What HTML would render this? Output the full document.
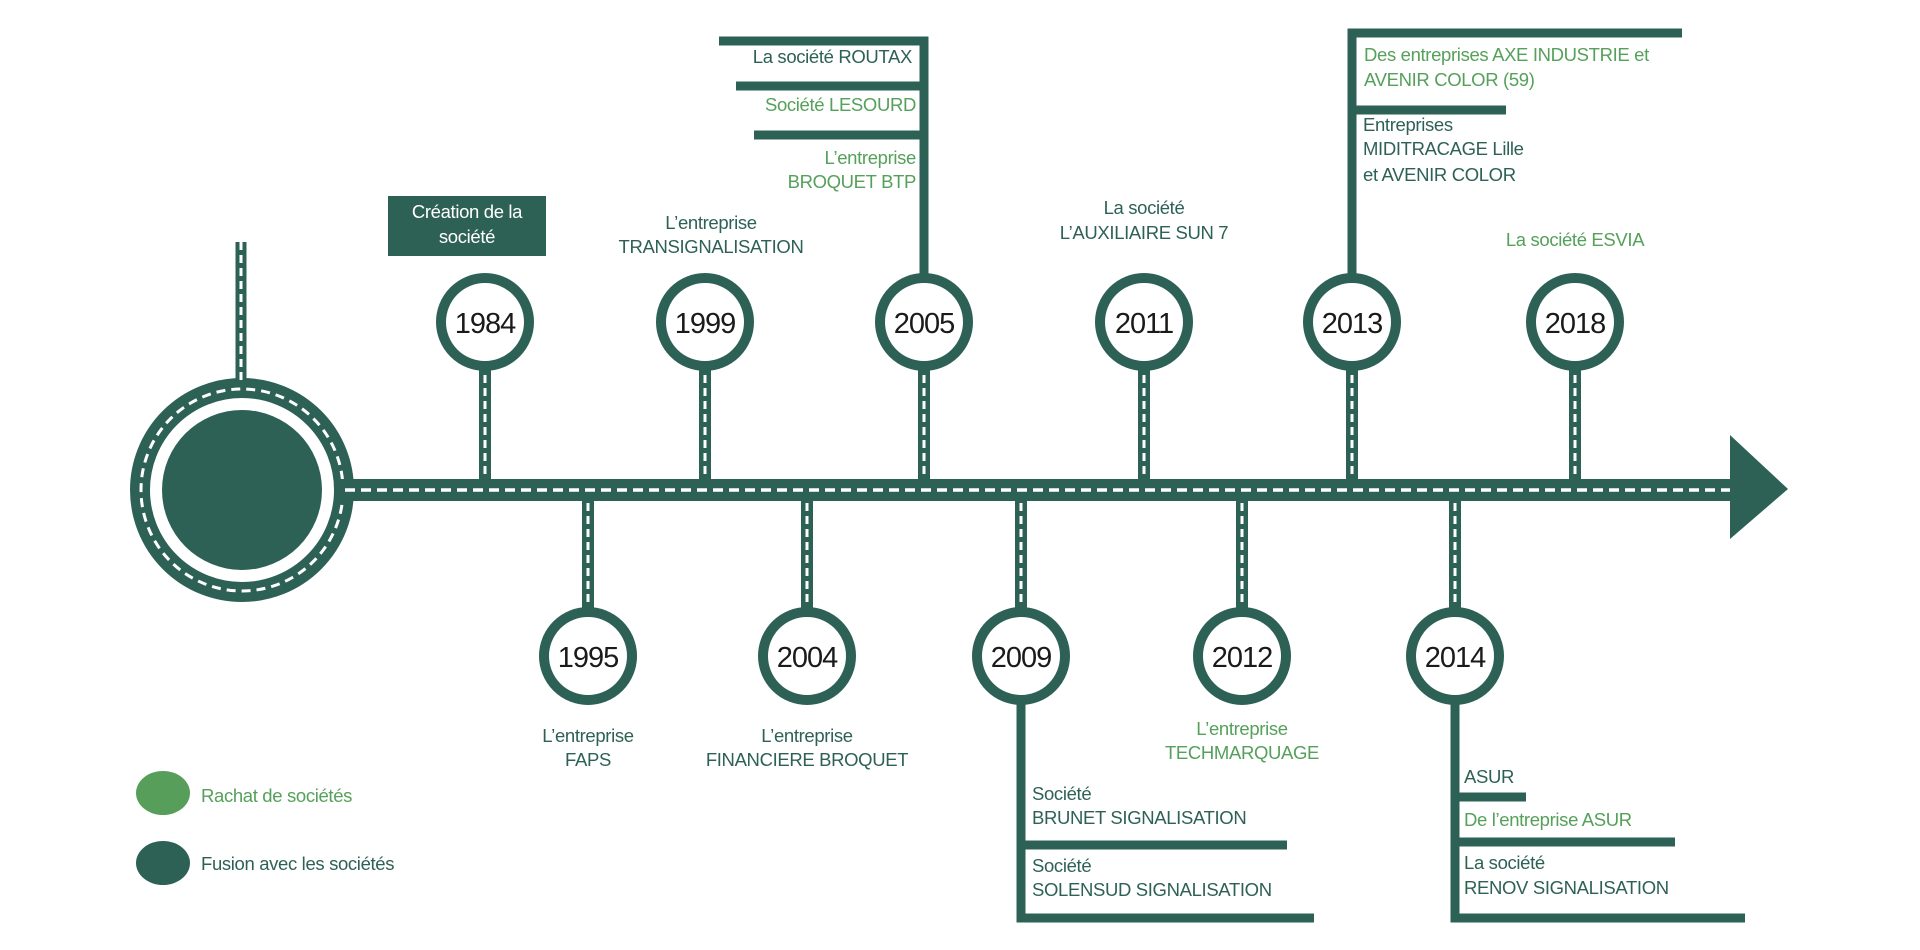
<!DOCTYPE html>
<html><head><meta charset="utf-8"><style>
html,body{margin:0;padding:0;background:#fff;}
svg{display:block;}
text{font-family:"Liberation Sans",Arial,sans-serif;font-size:18.5px;letter-spacing:-0.35px;}
.d{fill:#2e6156}.g{fill:#55a05a}.y{font-size:29px;fill:#1a1a1a;letter-spacing:-1px}
</style></head><body>
<svg width="1920" height="950" viewBox="0 0 1920 950" xmlns="http://www.w3.org/2000/svg">
<!-- big circle -->
<circle cx="242" cy="490" r="102" fill="none" stroke="#2e6156" stroke-width="20"/>
<circle cx="242" cy="490" r="101" fill="none" stroke="#fff" stroke-width="3" stroke-dasharray="9 6"/>
<circle cx="242" cy="490" r="80" fill="#2e6156"/>
<line x1="241" y1="242" x2="241" y2="382" stroke="#2e6156" stroke-width="11"/>
<line x1="241" y1="242" x2="241" y2="382" stroke="#fff" stroke-width="3" stroke-dasharray="8 5"/>
<!-- main bar -->
<rect x="340" y="479" width="1395" height="22" fill="#2e6156"/>
<line x1="345" y1="490" x2="1735" y2="490" stroke="#fff" stroke-width="3.5" stroke-dasharray="10 6"/>
<polygon points="1730,435 1788,489 1730,539" fill="#2e6156"/>

<g stroke="#2e6156" stroke-width="12">
<line x1="485" y1="370" x2="485" y2="480"/><line x1="705" y1="370" x2="705" y2="480"/>
<line x1="924" y1="370" x2="924" y2="480"/><line x1="1144" y1="370" x2="1144" y2="480"/>
<line x1="1352" y1="370" x2="1352" y2="480"/><line x1="1575" y1="370" x2="1575" y2="480"/>
<line x1="588" y1="500" x2="588" y2="608"/><line x1="807" y1="500" x2="807" y2="608"/>
<line x1="1021" y1="500" x2="1021" y2="608"/><line x1="1242" y1="500" x2="1242" y2="608"/>
<line x1="1455" y1="500" x2="1455" y2="608"/>
</g>
<g stroke="#fff" stroke-width="3" stroke-dasharray="8 5">
<line x1="485" y1="375" x2="485" y2="478"/><line x1="705" y1="375" x2="705" y2="478"/>
<line x1="924" y1="375" x2="924" y2="478"/><line x1="1144" y1="375" x2="1144" y2="478"/>
<line x1="1352" y1="375" x2="1352" y2="478"/><line x1="1575" y1="375" x2="1575" y2="478"/>
<line x1="588" y1="503" x2="588" y2="604"/><line x1="807" y1="503" x2="807" y2="604"/>
<line x1="1021" y1="503" x2="1021" y2="604"/><line x1="1242" y1="503" x2="1242" y2="604"/>
<line x1="1455" y1="503" x2="1455" y2="604"/>
</g>

<g stroke="#2e6156" stroke-width="9" fill="none">
<polyline points="719,41 924,41 924,280"/>
<line x1="736" y1="86" x2="924" y2="86"/>
<line x1="754" y1="135" x2="924" y2="135"/>
<polyline points="1682,33 1352,33 1352,280"/>
<line x1="1352" y1="110" x2="1506" y2="110"/>
<polyline points="1021,690 1021,918 1314,918"/>
<line x1="1021" y1="845" x2="1287" y2="845"/>
<polyline points="1455,690 1455,918 1745,918"/>
<line x1="1455" y1="797" x2="1526" y2="797"/>
<line x1="1455" y1="842" x2="1675" y2="842"/>
</g>

<g fill="#fff" stroke="#2e6156" stroke-width="10">
<circle cx="485" cy="322" r="44"/><circle cx="705" cy="322" r="44"/><circle cx="924" cy="322" r="44"/>
<circle cx="1144" cy="322" r="44"/><circle cx="1352" cy="322" r="44"/><circle cx="1575" cy="322" r="44"/>
<circle cx="588" cy="656" r="44"/><circle cx="807" cy="656" r="44"/><circle cx="1021" cy="656" r="44"/>
<circle cx="1242" cy="656" r="44"/><circle cx="1455" cy="656" r="44"/>
</g>
<g text-anchor="middle">
<text class="y" x="485" y="333">1984</text><text class="y" x="705" y="333">1999</text>
<text class="y" x="924" y="333">2005</text><text class="y" x="1144" y="333">2011</text>
<text class="y" x="1352" y="333">2013</text><text class="y" x="1575" y="333">2018</text>
<text class="y" x="588" y="667">1995</text><text class="y" x="807" y="667">2004</text>
<text class="y" x="1021" y="667">2009</text><text class="y" x="1242" y="667">2012</text>
<text class="y" x="1455" y="667">2014</text>
</g>

<rect x="388" y="196" width="158" height="60" fill="#2e6156"/>
<text x="467" y="218" text-anchor="middle" fill="#fff">Création de la</text>
<text x="467" y="243" text-anchor="middle" fill="#fff">société</text>

<g text-anchor="middle">
<text class="d" x="711" y="229">L’entreprise</text>
<text class="d" x="711" y="253">TRANSIGNALISATION</text>
<text class="d" x="1144" y="214">La société</text>
<text class="d" x="1144" y="239">L’AUXILIAIRE SUN 7</text>
<text class="g" x="1575" y="246">La société ESVIA</text>
<text class="d" x="588" y="742">L’entreprise</text>
<text class="d" x="588" y="766">FAPS</text>
<text class="d" x="807" y="742">L’entreprise</text>
<text class="d" x="807" y="766">FINANCIERE BROQUET</text>
<text class="g" x="1242" y="735">L’entreprise</text>
<text class="g" x="1242" y="759">TECHMARQUAGE</text>
</g>
<g text-anchor="end">
<text class="d" x="912" y="63">La société ROUTAX</text>
<text class="g" x="916" y="111">Société LESOURD</text>
<text class="g" x="916" y="164">L’entreprise</text>
<text class="g" x="916" y="188">BROQUET BTP</text>
</g>
<text class="g" x="1364" y="61">Des entreprises AXE INDUSTRIE et</text>
<text class="g" x="1364" y="86">AVENIR COLOR (59)</text>
<text class="d" x="1363" y="131">Entreprises</text>
<text class="d" x="1363" y="155">MIDITRACAGE Lille</text>
<text class="d" x="1363" y="181">et AVENIR COLOR</text>

<text class="d" x="1032" y="800">Société</text>
<text class="d" x="1032" y="824">BRUNET SIGNALISATION</text>
<text class="d" x="1032" y="872">Société</text>
<text class="d" x="1032" y="896">SOLENSUD SIGNALISATION</text>

<text class="d" x="1464" y="783">ASUR</text>
<text class="g" x="1464" y="826">De l’entreprise ASUR</text>
<text class="d" x="1464" y="869">La société</text>
<text class="d" x="1464" y="894">RENOV SIGNALISATION</text>

<ellipse cx="163" cy="793" rx="27" ry="22" fill="#569e5a"/>
<ellipse cx="163" cy="863" rx="27" ry="22" fill="#2e6156"/>
<text class="g" x="201" y="802">Rachat de sociétés</text>
<text class="d" x="201" y="870">Fusion avec les sociétés</text>
</svg>
</body></html>
